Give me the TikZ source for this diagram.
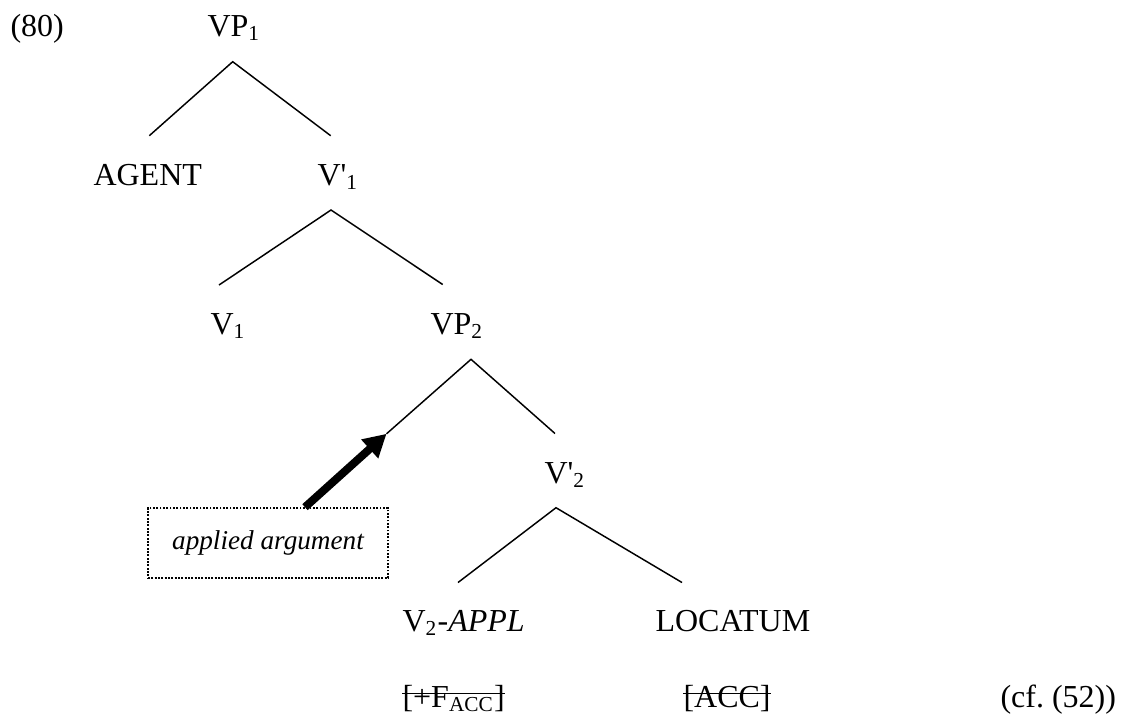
\documentclass[tikz,border=0pt]{standalone}
\usepackage{fontspec}
\setmainfont{Liberation Serif}
\usetikzlibrary{arrows.meta}
\begin{document}
\begin{tikzpicture}[x=0.375pt,y=-0.375pt,
  lbl/.style={anchor=base west,inner sep=0pt,font=\fontsize{12}{14}\selectfont},
  branch/.style={line width=0.55pt},
  strike/.style={line width=0.5pt},
  notebox/.style={draw,line width=0.6pt,dash pattern=on 0.7pt off 0.55pt,
    minimum width=90pt,minimum height=26.3pt,inner sep=0pt,
    font=\fontsize{10.2}{12}\selectfont\itshape},
  pointer/.style={line width=3pt,-{Triangle[length=8.5pt,width=9pt]}}]
\useasboundingbox (0,0) rectangle (1123,713);

% labels of the tree
\node[lbl] (ex)    at (10,36)   {(80)};
\node[lbl] (vp1)   at (207,36)  {VP\textsubscript{1}};
\node[lbl] (agent) at (93,185)  {AGENT};
\node[lbl] (vbar1) at (317,185) {V\textquotesingle\textsubscript{1}};
\node[lbl] (v1)    at (210,334) {V\textsubscript{1}};
\node[lbl] (vp2)   at (430,334) {VP\textsubscript{2}};
\node[lbl] (vbar2) at (544,483) {V\textquotesingle\textsubscript{2}};
\node[lbl] (v2)    at (402,631) {V\textsubscript{2}-\textit{APPL}};
\node[lbl] (loc)   at (655,631) {LOCATUM};
\node[lbl] (facc)  at (402,707) {[+F\textsubscript{ACC}]};
\node[lbl] (acc)   at (683,707) {[ACC]};
\node[lbl] (cf)    at (1000,707) {(cf.~(52))};

% struck-out features
\draw[strike] ([yshift=5pt]facc.base west) -- ([yshift=5pt]facc.base east);
\draw[strike] ([yshift=5pt]acc.base west) -- ([yshift=5pt]acc.base east);

% branch points
\coordinate (top1) at (232.7,61.7);
\coordinate (l1)   at (149.3,135.7);
\coordinate (r1)   at (330.7,135.7);
\coordinate (top2) at (331,210);
\coordinate (l2)   at (219,285);
\coordinate (r2)   at (442.7,284.5);
\coordinate (top3) at (471,359.3);
\coordinate (l3)   at (386.5,433.8);
\coordinate (r3)   at (555,433.5);
\coordinate (top4) at (556,507.7);
\coordinate (l4)   at (458,582.5);
\coordinate (r4)   at (682,582.5);

\draw[branch] (l1) -- (top1) -- (r1);
\draw[branch] (l2) -- (top2) -- (r2);
\draw[branch] (l3) -- (top3) -- (r3);
\draw[branch] (l4) -- (top4) -- (r4);

% note pointing at the specifier position
\node[notebox] (note) at (268,543) {applied argument};
\coordinate (tail) at (305,543 |- note.north);
\draw[pointer] (tail) -- (l3);
\end{tikzpicture}
\end{document}
